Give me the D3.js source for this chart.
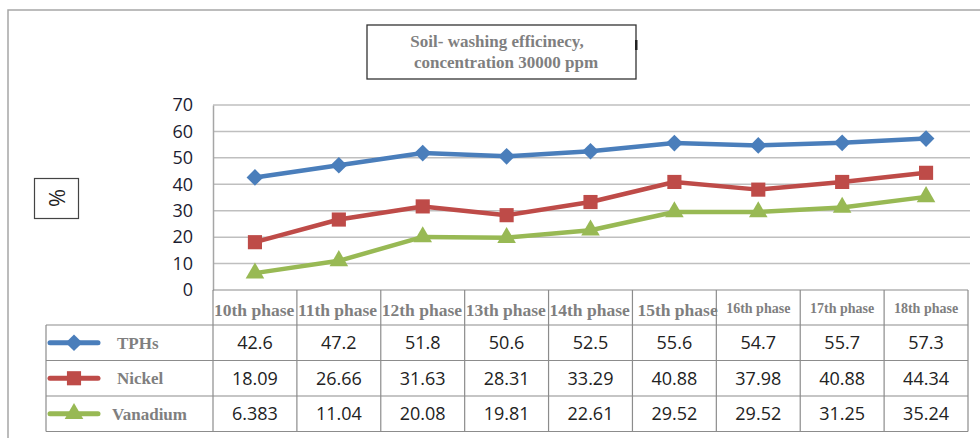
<!DOCTYPE html>
<html>
<head>
<meta charset="utf-8">
<script src="https://cdn.jsdelivr.net/npm/d3@7"></script>
<style>
  body { margin: 0; background: #fff; }
  svg { display: block; }
</style>
</head>
<body>
<div id="chart"></div>
<script>
// data
const phases = ['10th phase', '11th phase', '12th phase', '13th phase', '14th phase',
  '15th phase', '16th phase', '17th phase', '18th phase'];
const tphs = [42.6, 47.2, 51.8, 50.6, 52.5, 55.6, 54.7, 55.7, 57.3];
const nickel = [18.09, 26.66, 31.63, 28.31, 33.29, 40.88, 37.98, 40.88, 44.34];
const vanadium = [6.383, 11.04, 20.08, 19.81, 22.61, 29.52, 29.52, 31.25, 35.24];
const seriesNames = ['TPHs', 'Nickel', 'Vanadium'];
const yTicks = [0, 10, 20, 30, 40, 50, 60, 70];

const series = [
  { name: seriesNames[0], values: tphs, color: '#4a7ebb', symbol: d3.symbolSquare, size: 140, rot: 45, labels: tphs.map(String) },
  { name: seriesNames[1], values: nickel, color: '#be4b48', symbol: d3.symbolSquare, size: 200, rot: 0, labels: ['18.09', '26.66', '31.63', '28.31', '33.29', '40.88', '37.98', '40.88', '44.34'] },
  { name: seriesNames[2], values: vanadium, color: '#98b954', symbol: d3.symbolTriangle, size: 150, rot: 0, labels: ['6.383', '11.04', '20.08', '19.81', '22.61', '29.52', '29.52', '31.25', '35.24'] }
];

const width = 980, height = 438;
const plot = { left: 213, right: 968, top: 105, bottom: 290 };
const table = { left: 46, headerBottom: 325, rowH: 35.5 };

const svg = d3.select('#chart').append('svg')
  .attr('width', width).attr('height', height);

// outer frame
svg.append('path')
  .attr('d', `M8,${height} L8,10 L${width},10`)
  .attr('fill', 'none').attr('stroke', '#a6a6a6').attr('stroke-width', 1.5);

// title box
svg.append('rect')
  .attr('x', 367).attr('y', 25).attr('width', 269).attr('height', 54)
  .attr('fill', '#fff').attr('stroke', '#333').attr('stroke-width', 1.3);
svg.append('rect').attr('x', 635).attr('y', 40).attr('width', 2.5).attr('height', 10).attr('fill', '#222');
const title = svg.append('text')
  .attr('text-anchor', 'middle')
  .style('font-family', '"Liberation Serif", "DejaVu Serif", serif')
  .style('font-weight', 'bold').style('font-size', '17px').attr('fill', '#7f7f7f');
title.append('tspan').attr('x', 497).attr('y', 47).text('Soil- washing efficinecy,');
title.append('tspan').attr('x', 506).attr('y', 68).text('concentration 30000 ppm');

// y axis title box
svg.append('rect')
  .attr('x', 34.5).attr('y', 178.5).attr('width', 44).attr('height', 40)
  .attr('fill', '#fff').attr('stroke', '#444').attr('stroke-width', 1.2);
svg.append('text')
  .attr('transform', 'translate(57,198) rotate(-90)')
  .attr('text-anchor', 'middle').attr('dy', '0.35em')
  .style('font-family', '"Open Sans", "DejaVu Sans", sans-serif')
  .style('font-size', '22px').attr('fill', '#222').text('%');

// scales
const x = d3.scaleBand().domain(phases).range([plot.left, plot.right]);
const y = d3.scaleLinear().domain([0, 70]).range([plot.bottom, plot.top]);
const cx = d => x(d) + x.bandwidth() / 2;

// gridlines
svg.append('g').selectAll('line').data(yTicks.filter(t => t > 0)).join('line')
  .attr('x1', plot.left).attr('x2', plot.right + 2)
  .attr('y1', d => y(d)).attr('y2', d => y(d))
  .attr('stroke', '#bfbfbf').attr('stroke-width', 1.5);

// y axis
const yAxis = svg.append('g')
  .attr('transform', `translate(${plot.left},0)`)
  .call(d3.axisLeft(y).tickValues(yTicks).tickSize(0).tickPadding(20));
yAxis.select('.domain').attr('stroke', '#a6a6a6').attr('stroke-width', 1.5);
yAxis.selectAll('text')
  .style('font-family', '"Open Sans", "Noto Sans", sans-serif')
  .style('font-size', '18px').attr('fill', '#1c1c30');

// lines + markers
const line = d3.line().x((d, i) => cx(phases[i])).y(d => y(d));
series.forEach(s => {
  svg.append('path')
    .datum(s.values)
    .attr('d', line)
    .attr('fill', 'none').attr('stroke', s.color)
    .attr('stroke-width', 4.5).attr('stroke-linejoin', 'round');
  svg.append('g').selectAll('path').data(s.values).join('path')
    .attr('transform', (d, i) => `translate(${cx(phases[i])},${y(d)}) rotate(${s.rot})`)
    .attr('d', d3.symbol(s.symbol, s.size))
    .attr('fill', s.color);
});

// data table
const gridColor = '#8c8c8c';
const tableBottom = table.headerBottom + table.rowH * 3;
const tbl = svg.append('g');
// horizontal lines
[table.headerBottom, table.headerBottom + table.rowH, table.headerBottom + 2 * table.rowH, tableBottom]
  .forEach(yy => tbl.append('line')
    .attr('x1', table.left).attr('x2', plot.right)
    .attr('y1', yy).attr('y2', yy)
    .attr('stroke', gridColor).attr('stroke-width', 1.2));
tbl.append('line').attr('x1', plot.left).attr('x2', plot.right)
  .attr('y1', plot.bottom).attr('y2', plot.bottom)
  .attr('stroke', gridColor).attr('stroke-width', 1.2);
// vertical lines
tbl.append('line').attr('x1', table.left).attr('x2', table.left)
  .attr('y1', table.headerBottom).attr('y2', tableBottom)
  .attr('stroke', gridColor).attr('stroke-width', 1.2);
phases.concat(['end']).forEach((p, i) => {
  const xx = plot.left + i * x.bandwidth();
  tbl.append('line').attr('x1', xx).attr('x2', xx)
    .attr('y1', plot.bottom).attr('y2', tableBottom)
    .attr('stroke', gridColor).attr('stroke-width', 1.2);
});

// header labels
tbl.selectAll('text.head').data(phases).join('text')
  .attr('class', 'head')
  .attr('x', (d, i) => i < 6 ? x(d) + (i === 5 ? 5 : 1) : cx(d))
  .attr('y', (d, i) => i < 6 ? 316 : 313)
  .attr('text-anchor', (d, i) => i < 6 ? 'start' : 'middle')
  .style('font-family', '"Liberation Serif", "DejaVu Serif", serif')
  .style('font-weight', 'bold')
  .style('font-size', (d, i) => i < 6 ? '17.5px' : '14px')
  .attr('fill', '#7f7f7f')
  .text(d => d);

// rows
series.forEach((s, r) => {
  const rowMid = table.headerBottom + table.rowH * (r + 0.5);
  tbl.append('line')
    .attr('x1', 50).attr('x2', 98).attr('y1', rowMid).attr('y2', rowMid)
    .attr('stroke', s.color).attr('stroke-width', 5).attr('stroke-linecap', 'round');
  tbl.append('path')
    .attr('transform', `translate(74,${rowMid}) rotate(${s.rot})`)
    .attr('d', d3.symbol(s.symbol, s.size))
    .attr('fill', s.color);
  tbl.append('text')
    .attr('x', r === 2 ? 112 : 117).attr('y', rowMid).attr('dy', '0.35em')
    .style('font-family', '"Liberation Serif", "DejaVu Serif", serif')
    .style('font-weight', 'bold').style('font-size', '17px')
    .attr('fill', '#7f7f7f').text(s.name);
  tbl.selectAll(null).data(s.labels).join('text')
    .attr('x', (d, i) => cx(phases[i])).attr('y', rowMid).attr('dy', '0.36em')
    .attr('text-anchor', 'middle')
    .style('font-family', '"Open Sans", "Noto Sans", sans-serif')
    .style('font-size', '18px').attr('fill', '#222')
    .text(d => d);
});
</script>
</body>
</html>
